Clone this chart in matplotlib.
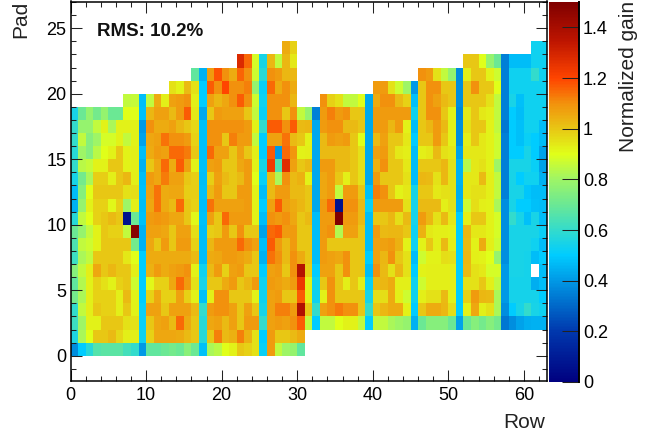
import numpy as np
import matplotlib
matplotlib.use("Agg")
import matplotlib.pyplot as plt
from matplotlib.colors import LinearSegmentedColormap
from matplotlib.ticker import MultipleLocator, FixedLocator

plt.rcParams['font.family'] = ['Liberation Sans', 'DejaVu Sans']

_ = None
pad_00 = [.38,.5,.58,.66,.67,.67,.67,.63,.6,.4,.68,.68,.7,.72,.7,.76,.7,.48,.82,.84,.9,.92,1.0,.98,.95,.52,1.08,.85,.8,.78,.68] + [_]*32
pad_01 = [.56,.82,.9,1.0,1.0,1.02,.97,.93,.93,.53,.98,1.06,1.06,1.06,1.05,1.02,1.0,.58,1.0,1.12,1.02,1.04,1.12,1.04,.95,.5,1.08,1.0,1.0,1.02,1.05] + [_]*32
pad_02 = [.62,.8,.92,.92,1.0,1.0,1.0,.95,.95,.52,1.0,1.06,1.07,1.02,1.15,1.05,1.0,.58,1.06,1.07,1.02,1.07,1.0,1.08,1.08,.6,1.07,1.08,1.07,1.1,1.17,
          .85,.5,.85,.85,.9,.92,.92,.85,.5,.85,.85,.82,.8,.78,.45,.7,.75,.75,.75,.7,.42,.7,.75,.72,.75,.72,.33,.38,.42,.44,.45,.45]
pad_03 = [.6,.85,.93,1.0,.98,.98,.93,1.0,.92,.52,1.07,1.07,1.0,1.07,1.07,1.07,1.02,.6,1.08,1.1,1.1,1.07,1.0,1.07,1.0,.55,1.07,1.12,1.12,1.08,1.38,
          1.0,.6,1.07,1.1,1.13,1.1,1.1,1.0,.6,1.0,1.03,1.05,1.05,.92,.5,1.0,1.05,1.05,1.03,.96,.5,.92,1.06,.93,.95,.82,.38,.5,.55,.6,.55,.53]
pad_04 = [.72,.82,.93,.98,.98,.98,.93,1.02,.92,.5,.98,1.06,.98,.98,1.07,.98,.92,.48,.93,1.1,1.1,1.0,1.0,1.0,.92,.53,1.07,1.08,1.0,1.0,1.17,
          .92,.53,.92,1.1,1.0,1.0,1.0,1.0,.55,.96,.96,1.05,.93,.87,.53,.93,.95,.95,1.02,.92,.5,.98,1.08,1.03,1.02,.82,.4,.54,.54,.54,.54,.5]
pad_05 = [.68,.83,.92,.98,.95,.92,.98,1.0,.87,.5,.91,.98,.98,1.06,1.15,1.08,.95,.55,1.0,1.0,1.05,1.08,1.0,1.03,1.08,.53,1.08,1.07,1.05,1.08,1.24,
          .92,.53,1.0,1.1,1.0,.93,1.0,.93,.52,1.02,1.03,1.05,.93,.93,.53,.87,.93,.93,.93,.93,.5,.95,.95,1.0,.93,.85,.4,.54,.54,.54,.44,.47]
pad_06 = [.75,.85,.93,1.06,1.0,1.03,1.0,1.0,.93,.5,1.04,1.08,1.05,1.07,1.08,1.1,.92,.53,1.02,1.08,.98,1.07,1.08,1.0,1.0,.5,1.07,1.08,1.0,1.1,1.37,
          .99,.5,1.07,1.07,1.0,1.1,1.0,1.0,.47,1.1,1.02,.95,1.03,.95,.5,.92,.93,.93,.93,.93,.5,1.02,.95,.94,.88,.88,.4,.55,.55,.54,_,.47]
pad_07 = [.62,.82,.85,1.0,1.0,1.0,1.0,.94,.9,.5,1.05,1.05,1.05,1.05,1.05,1.05,1.02,.47,1.05,1.06,1.08,1.08,1.07,1.05,1.0,.45,1.14,1.1,1.02,1.1,1.05,
          1.0,.47,1.08,1.07,1.06,1.1,1.0,1.0,.5,1.07,1.03,1.1,1.0,.95,.47,.87,.92,.92,.96,.95,.5,1.03,.93,.92,.9,.78,.38,.55,.55,.54,.47,.5]
pad_08 = [.65,.85,.87,.92,1.0,1.0,1.0,1.0,.72,.45,1.06,1.0,1.08,1.0,1.08,1.08,.98,.47,1.03,1.08,1.08,1.08,1.15,1.1,1.07,.47,1.17,1.08,1.02,1.08,1.0,
          1.0,.47,1.08,1.0,1.0,1.0,1.0,1.0,.47,1.07,1.07,1.08,1.04,.92,.53,.92,1.0,.93,1.02,.93,.5,1.02,.92,1.05,.93,.87,.38,.55,.55,.55,.53,.47]
pad_09 = [.7,.78,.85,.92,1.0,.98,.98,.85,1.48,.45,1.07,1.07,1.06,1.0,1.07,1.07,.96,.47,.99,1.0,1.08,1.0,1.1,1.0,1.0,.42,1.15,1.17,1.08,1.08,1.0,
          1.0,.47,1.08,1.1,.83,1.07,1.07,1.0,.47,1.08,1.02,1.03,1.03,1.0,.53,1.04,.94,.93,.93,.92,.5,1.03,.94,.94,.92,.88,.38,.55,.55,.55,.55,.52]
pad_10 = [.58,.85,.9,.98,1.0,1.02,1.0,.06,.7,.48,1.08,1.09,1.08,1.06,1.06,1.0,.91,.48,1.07,1.0,1.15,1.08,1.08,1.08,.92,.47,1.1,1.08,1.1,1.06,1.0,
          1.02,.47,1.08,1.08,1.5,1.08,1.08,1.02,.47,1.0,1.0,1.03,.96,1.02,.55,1.08,1.03,.95,1.02,.94,.5,.93,1.0,1.0,.92,.88,.38,.6,.55,.48,.55,.47]
pad_11 = [.45,.78,.92,.98,.98,.91,.98,.8,.93,.47,1.06,1.14,1.05,1.02,1.15,1.0,.98,.47,1.14,1.07,1.07,1.07,1.07,1.08,.92,.5,1.07,1.17,1.07,1.05,1.03,
          1.0,.43,1.08,1.15,.06,1.1,1.1,1.02,.52,1.08,1.08,1.08,1.08,.95,.55,1.02,1.02,1.02,.93,.95,.45,.87,.96,.93,.92,.82,.38,.55,.5,.5,.48,.47]
pad_12 = [.47,.75,.9,1.0,1.0,1.0,1.0,.95,.96,.48,1.07,1.14,1.05,1.06,1.06,.99,.99,.48,1.03,1.08,1.0,1.0,1.08,1.08,.92,.47,1.02,1.08,1.08,1.02,1.02,
          1.0,.43,1.06,1.08,.85,1.08,1.08,1.0,.48,1.12,1.1,1.0,.92,.94,.55,1.0,1.0,.94,.95,.95,.44,.94,.95,.95,.93,.85,.35,.55,.55,.49,.47,.47]
pad_13 = [.55,.72,.82,.99,.99,.93,1.0,1.03,.93,.47,1.08,1.06,1.13,1.07,1.07,1.0,.99,.47,.99,1.07,1.02,1.0,1.02,1.08,.9,.52,1.02,.82,1.1,1.02,1.04,
          .92,.43,1.06,1.08,1.0,.93,1.0,.95,.43,1.08,1.0,1.0,1.0,.95,.47,1.03,1.02,.95,1.03,.95,.45,.94,.94,1.02,.93,.85,.35,.55,.5,.53,.53,.45]
pad_14 = [.6,.84,.86,.92,.92,1.0,1.0,.92,.93,.45,1.0,1.06,1.15,1.05,1.17,1.07,.92,.48,1.07,1.08,1.0,1.0,1.06,1.08,.92,.55,1.23,.65,1.27,1.07,1.0,
          1.02,.43,1.08,1.08,1.02,1.02,1.0,.95,.43,1.04,1.1,1.0,1.0,.94,.47,1.0,1.0,1.0,1.03,.95,.45,.84,.94,.95,.92,.8,.35,.55,.55,.55,.52,.42]
pad_15 = [.58,.8,.75,.84,.9,.92,1.0,.92,.93,.47,1.05,1.08,1.07,1.15,1.15,1.13,1.0,.48,1.15,1.07,1.07,1.0,1.07,1.0,.93,.5,1.17,.4,1.15,1.09,.92,
          .93,.43,1.02,1.02,1.02,1.02,1.0,.95,.43,1.07,1.08,1.0,.94,.93,.47,.93,.94,1.02,.95,.94,.42,.94,.94,.94,.92,.87,.35,.5,.5,.55,.5,.42]
pad_16 = [.6,.85,.75,.8,.88,.88,.92,.85,.92,.42,1.06,1.07,1.14,1.1,1.1,1.08,.98,.48,1.1,1.1,1.0,1.12,1.08,1.08,.85,.5,1.07,1.07,1.14,1.02,1.0,
          .92,.43,1.02,1.08,1.07,1.08,1.0,.9,.43,1.02,1.07,1.0,1.0,.94,.5,1.0,1.0,1.08,1.0,.92,.38,.93,1.0,.94,.92,.87,.35,.5,.48,.52,.5,.47]
pad_17 = [.6,.78,.78,.85,.92,.82,.92,.92,.92,.4,1.1,1.05,1.05,1.07,1.03,1.0,.97,.48,1.1,1.1,1.1,1.1,1.1,1.08,.92,.6,1.17,1.17,1.1,1.17,1.02,
          1.03,.43,1.08,1.1,1.1,1.02,1.02,1.0,.43,1.08,1.08,1.03,1.08,.92,.47,1.0,1.03,1.08,1.02,.92,.38,.95,1.0,1.0,.92,.85,.33,.5,.48,.53,.53,.47]
pad_18 = [.55,.7,.78,.72,.78,.7,.7,.9,.9,.48,1.03,1.07,1.07,1.02,1.08,1.17,.94,.43,1.0,1.08,1.07,1.07,1.07,1.0,.85,.52,1.1,1.1,1.0,1.1,.85,
          .78,.35,1.08,1.12,1.08,1.1,1.0,1.0,.43,1.08,1.08,1.08,1.08,1.08,.53,1.0,1.1,1.1,1.0,.92,.36,.94,1.0,.94,.93,.85,.35,.5,.47,.53,.53,.53]
pad_19 = [_]*7 + [.85,.86,.47,.85,1.05,.93,1.07,1.08,1.1,.93,.5,1.07,1.03,1.06,1.1,1.17,1.1,.87,.53,1.1,1.1,1.1,1.03] + [_]*3 + \
         [1.1,.98,.95,.85,.85,.9,.43,1.05,1.1,1.1,1.02,.98,.48,1.0,1.1,1.07,1.02,1.0,.38,1.0,1.0,1.0,.95,.85,.35,.55,.48,.53,.53,.53]
pad_20 = [_]*13 + [.95,.92,1.02,.95,.5,1.17,1.1,1.2,1.1,1.1,1.12,.78,.52,1.15,1.05,1.1,1.05] + [_]*10 + \
         [1.08,1.08,.95,.87,.8,.4,1.0,1.1,1.1,1.0,1.0,.38,1.0,1.1,1.0,1.0,.9,.35,.53,.53,.53,.53,.53]
pad_21 = [_]*16 + [.68,.45,1.08,1.18,1.1,1.05,1.16,1.1,.87,.58,1.1,1.08,1.03,1.03] + [_]*16 + \
         [1.1,1.08,.95,.85,.78,.37,.93,1.0,1.0,.92,.87,.35,.53,.53,.53,.6,.53]
pad_22 = [_]*22 + [1.28,1.15,.88,.55,1.03,.85,1.03,.94] + [_]*22 + [1.0,1.0,.9,.78,.7,.35,.47,.47,.47,.53,.53]
pad_23 = [_]*28 + [1.05,.98] + [_]*31 + [.53,.53]

pads = [pad_00,pad_01,pad_02,pad_03,pad_04,pad_05,pad_06,pad_07,pad_08,pad_09,pad_10,pad_11,
        pad_12,pad_13,pad_14,pad_15,pad_16,pad_17,pad_18,pad_19,pad_20,pad_21,pad_22,pad_23]
gain = np.ma.masked_invalid(np.array(pads, dtype=float))

x_ticks = [0, 10, 20, 30, 40, 50, 60]
y_ticks = [0, 5, 10, 15, 20, 25]
cbar_ticks = [0, .2, .4, .6, .8, 1, 1.2, 1.4]
cbar_labels = ['0', '0.2', '0.4', '0.6', '0.8', '1', '1.2', '1.4']

stops = [(0, (0, 0, .5)), (.2/1.5, (0, .22, .68)), (.4/1.5, (0, .6, .9)), (.5/1.5, (0, .8, 1)),
         (.6/1.5, (.2, .86, .8)), (.7/1.5, (.42, .91, .58)), (.8/1.5, (.62, .96, .4)),
         (.9/1.5, (.88, 1, .1)), (1/1.5, (.91, .78, .08)), (1.1/1.5, (.95, .57, .05)),
         (1.2/1.5, (1, .27, 0)), (1.35/1.5, (.74, .08, 0)), (1, (.5, 0, 0))]
cmap = LinearSegmentedColormap.from_list('root', stops, N=256)

W, H = 659, 438
fig = plt.figure(figsize=(W/100, H/100), dpi=100)
ax = fig.add_axes([70.5/W, 1-381/H, 476/W, 379.5/H])
mesh = ax.pcolormesh(np.arange(64), np.arange(25), gain, cmap=cmap, vmin=0, vmax=1.5, rasterized=True)
ax.set_xlim(0, 63)
ax.set_ylim(-1.93, 27.04)
ax.xaxis.set_major_locator(FixedLocator(x_ticks))
ax.xaxis.set_minor_locator(MultipleLocator(2))
ax.yaxis.set_major_locator(FixedLocator(y_ticks))
ax.yaxis.set_minor_locator(MultipleLocator(1))
ax.tick_params(which='major', direction='in', top=True, right=True, length=8, width=.75, labelsize=13, color='#222222')
ax.tick_params(axis='x', which='major', pad=4)
ax.tick_params(axis='y', which='major', pad=3)
ax.tick_params(which='minor', direction='in', top=True, right=True, length=3.8, width=.75, color='#222222')
for s in ax.spines.values():
    s.set_linewidth(1.1)
fig.text(545.5/W, 1-423/H, 'Row', ha='right', va='center', fontsize=15, color='#222222')
fig.text(21/W, 1-1/H, 'Pad', ha='center', va='top', rotation=90, fontsize=15, color='#222222')
fig.text(97/W, 1-32/H, 'RMS: 10.2%', ha='left', va='center', fontsize=13.5, fontweight='bold', color='#111111')

cax = fig.add_axes([549/W, 1-382/H, 30.5/W, 380/H])
cb = fig.colorbar(mesh, cax=cax)
cb.set_ticks(cbar_ticks, labels=cbar_labels)
cb.ax.tick_params(direction='in', length=12.2, width=.75, labelsize=13, pad=2.5, color='#222222')
cb.outline.set_visible(False)
cax.axvline(1, color='k', lw=1.4, clip_on=False)
fig.text(628/W, 1-1/H, 'Normalized gain', ha='center', va='top', rotation=90, fontsize=15, color='#222222')
fig.savefig('out.png', dpi=100)
